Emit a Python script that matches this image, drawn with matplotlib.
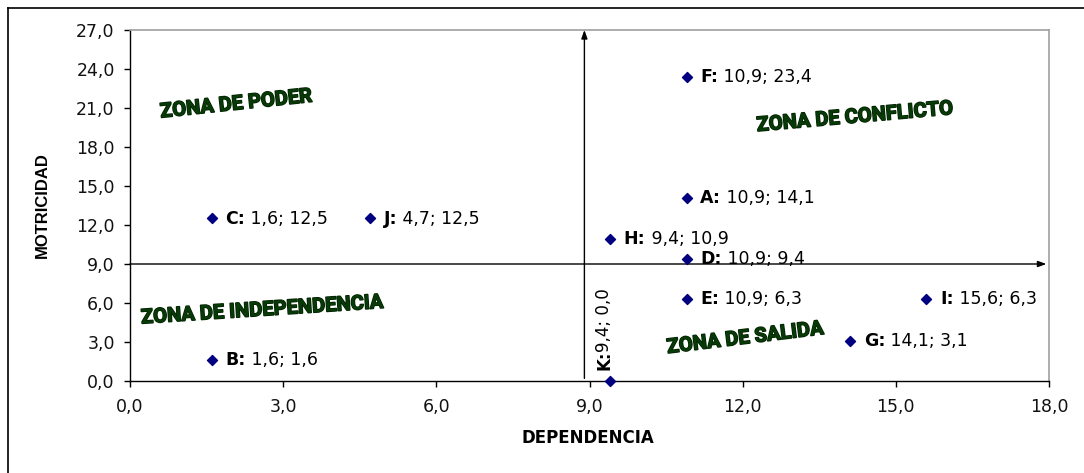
import matplotlib
matplotlib.use("Agg")
import matplotlib.pyplot as plt
from matplotlib.lines import Line2D
import matplotlib.patheffects as pe

# ---- data ----
names = ["F", "A", "H", "D", "E", "I", "G", "C", "J", "B", "K"]
dependencia = [10.9, 10.9, 9.4, 10.9, 10.9, 15.6, 14.1, 1.6, 4.7, 1.6, 9.4]
motricidad = [23.4, 14.1, 10.9, 9.4, 6.3, 6.3, 3.1, 12.5, 12.5, 1.6, 0.0]
x_ticks = [0, 3, 6, 9, 12, 15, 18]
y_ticks = [0, 3, 6, 9, 12, 15, 18, 21, 24, 27]
zone_names = ["ZONA DE PODER", "ZONA DE CONFLICTO", "ZONA DE INDEPENDENCIA", "ZONA DE SALIDA"]
zone_x = [2.08, 14.2, 2.59, 12.05]
zone_y = [21.3, 20.3, 5.45, 3.3]
zone_rot = [6, 5, 3.7, 7]
cross_x = 8.9
cross_y = 9.0

W, H = 1084, 473
fig = plt.figure(figsize=(W / 100, H / 100), dpi=100)
fig.patch.set_facecolor("white")

# outer frame (left and top visible)
fig.add_artist(Line2D([8 / W, 8 / W], [0, 1 - 8 / H], transform=fig.transFigure, color="black", lw=1.2))
fig.add_artist(Line2D([8 / W, 1], [1 - 8 / H, 1 - 8 / H], transform=fig.transFigure, color="black", lw=1.2))

ax = fig.add_axes([130 / W, 1 - 381 / H, 919 / W, 351 / H])
ax.set_xlim(0, 18)
ax.set_ylim(0, 27)

for s in ["top", "right"]:
    ax.spines[s].set_color("#a0a0a0")
    ax.spines[s].set_linewidth(1.2)
for s in ["left", "bottom"]:
    ax.spines[s].set_color("black")
    ax.spines[s].set_linewidth(1.0)

ax.set_xticks(x_ticks)
ax.set_yticks(y_ticks)
ax.set_xticklabels([f"{v:.1f}".replace(".", ",") for v in x_ticks])
ax.set_yticklabels([f"{v:.1f}".replace(".", ",") for v in y_ticks])
ax.tick_params(axis="both", direction="out", length=4.5, width=1, color="black",
               labelsize=12.5, labelcolor="#111111")
ax.tick_params(axis="x", pad=8)
ax.tick_params(axis="y", pad=6.5)
for lab in ax.get_xticklabels() + ax.get_yticklabels():
    lab.set_family("DejaVu Sans")

# crosshair arrows
ax.annotate("", xy=(cross_x, 27.0), xytext=(cross_x, 0.2),
            arrowprops=dict(arrowstyle="-|>,head_length=0.5,head_width=0.18", color="black",
                            lw=1.0, shrinkA=0, shrinkB=0), zorder=2)
ax.annotate("", xy=(17.95, cross_y), xytext=(0, cross_y),
            arrowprops=dict(arrowstyle="-|>,head_length=0.5,head_width=0.18", color="black",
                            lw=1.0, shrinkA=0, shrinkB=0), zorder=2)

# points
ax.scatter(dependencia, motricidad, marker="D", s=26, color="#000080", zorder=5, clip_on=False)

# labels
for n, xv, yv in zip(names, dependencia, motricidad):
    val = f"{xv:.1f}".replace(".", ",") + "; " + f"{yv:.1f}".replace(".", ",")
    if n == "K":
        b = ax.annotate(n + ":", xy=(xv, yv), xytext=(-4, 8), textcoords="offset points",
                        rotation=90, ha="center", va="bottom", fontsize=12,
                        fontweight="bold", family="DejaVu Sans", color="black")
        ax.annotate(val, xy=(0.5, 0.93), xycoords=b, rotation=90, ha="center", va="bottom",
                    fontsize=12, family="DejaVu Sans", color="black")
    else:
        b = ax.annotate(n + ":", xy=(xv, yv), xytext=(10, 0), textcoords="offset points",
                        ha="left", va="center", fontsize=12.5, fontweight="bold",
                        family="DejaVu Sans", color="black")
        ax.annotate(" " + val, xy=(1, 0.5), xycoords=b, ha="left", va="center",
                    fontsize=12.5, family="DejaVu Sans", color="black")

# zone labels
for zn, zx, zy, zr in zip(zone_names, zone_x, zone_y, zone_rot):
    ax.text(zx, zy, zn, rotation=zr, ha="center", va="center", fontsize=14.5,
            fontweight="bold", family=["Roboto", "DejaVu Sans"],
            color="#083a08", rotation_mode="anchor",
            path_effects=[pe.withStroke(linewidth=1.1, foreground="#002000")])

# axis titles
fig.text(588 / W, 1 - 438 / H, "DEPENDENCIA", ha="center", va="center", fontsize=12,
         fontweight="bold", family="DejaVu Sans", color="black")
fig.text(42 / W, 1 - 205 / H, "MOTRICIDAD", ha="center", va="center", rotation=90,
         fontsize=12, fontweight="bold", family=["Liberation Sans", "DejaVu Sans"], color="black")

fig.savefig("out.png", dpi=100, facecolor="white")
